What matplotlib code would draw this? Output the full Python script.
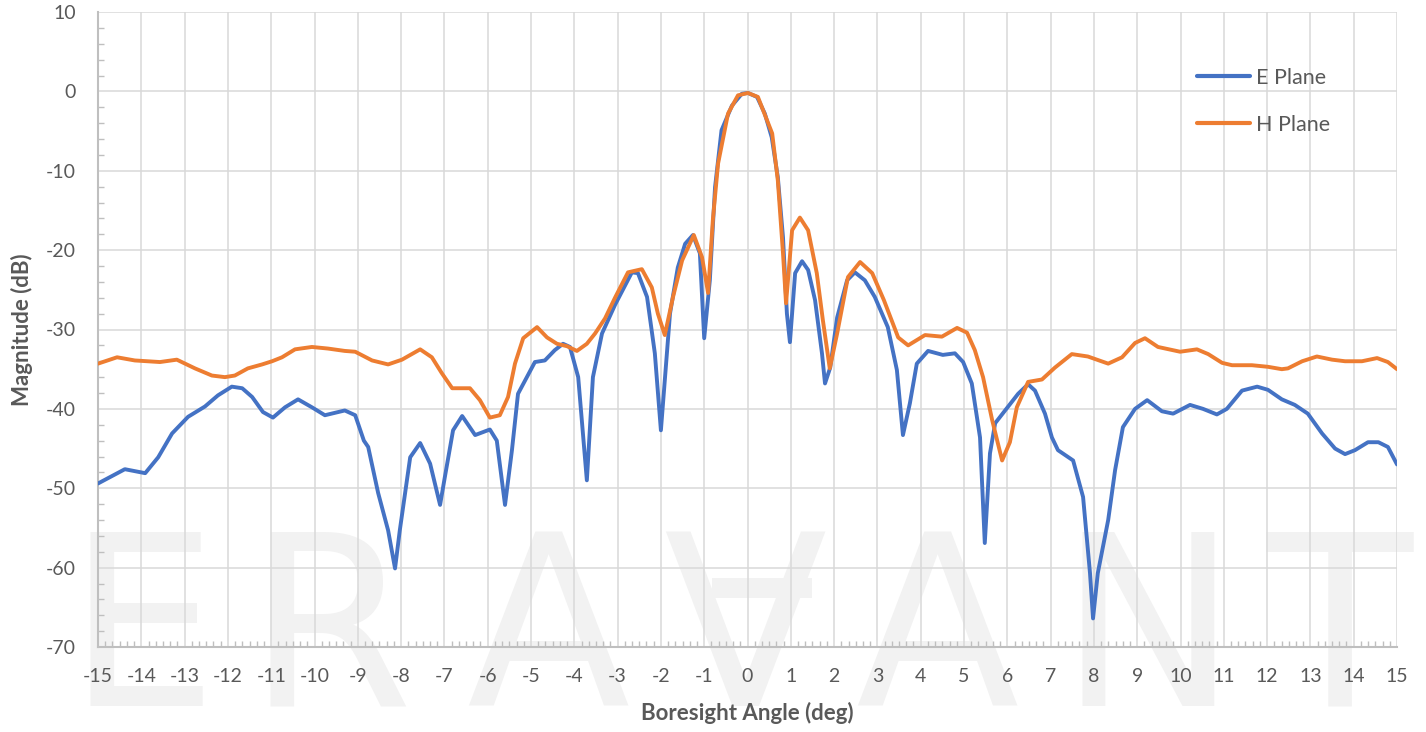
import matplotlib
matplotlib.use("Agg")
import matplotlib.pyplot as plt
from matplotlib.ticker import MultipleLocator
from matplotlib.patches import Rectangle
import matplotlib.font_manager as fm

# ---------------- data ----------------
e_angle = [-15.0, -14.38, -13.91, -13.61, -13.29, -12.92, -12.53, -12.23, -11.91, -11.67,
           -11.44, -11.19, -10.96, -10.68, -10.38, -10.06, -9.76, -9.30, -9.06, -8.86,
           -8.76, -8.53, -8.30, -8.14, -8.03, -7.79, -7.56, -7.33, -7.10, -6.99,
           -6.80, -6.59, -6.29, -5.95, -5.79, -5.60, -5.44, -5.30, -4.91, -4.68,
           -4.45, -4.26, -4.10, -3.91, -3.71, -3.57, -3.36, -3.06, -2.67, -2.53,
           -2.32, -2.14, -2.00, -1.79, -1.61, -1.44, -1.26, -1.10, -1.00, -0.87,
           -0.75, -0.60, -0.36, -0.13, 0.01, 0.22, 0.40, 0.56, 0.70, 0.82,
           0.91, 0.98, 1.10, 1.26, 1.40, 1.56, 1.72, 1.79, 1.91, 2.07,
           2.30, 2.48, 2.71, 2.94, 3.24, 3.45, 3.59, 3.75, 3.91, 4.17,
           4.51, 4.79, 4.98, 5.18, 5.37, 5.48, 5.60, 5.72, 5.95, 6.25,
           6.48, 6.64, 6.87, 7.03, 7.17, 7.52, 7.75, 7.91, 7.98, 8.09,
           8.33, 8.49, 8.67, 8.95, 9.23, 9.57, 9.83, 10.22, 10.52, 10.84,
           11.07, 11.42, 11.77, 12.02, 12.34, 12.64, 12.94, 13.27, 13.57, 13.80,
           14.03, 14.33, 14.57, 14.79, 15.0]
e_mag = [-49.4, -47.6, -48.1, -46.1, -43.1, -41.0, -39.7, -38.3, -37.2, -37.4,
         -38.5, -40.4, -41.1, -39.8, -38.8, -39.8, -40.8, -40.2, -40.8, -44.0,
         -44.8, -50.6, -55.3, -60.1, -55.3, -46.1, -44.3, -46.9, -52.1, -48.6,
         -42.7, -40.9, -43.3, -42.6, -44.0, -52.1, -45.2, -38.1, -34.1, -33.9,
         -32.6, -31.8, -32.2, -36.0, -49.0, -36.0, -30.5, -26.9, -22.8, -22.9,
         -25.9, -33.0, -42.7, -28.0, -22.2, -19.2, -18.1, -20.4, -31.1, -23.8,
         -12.1, -4.9, -1.8, -0.3, -0.2, -0.7, -2.8, -5.8, -10.8, -18.4,
         -28.0, -31.6, -22.9, -21.4, -22.5, -26.3, -33.0, -36.8, -34.8, -28.5,
         -23.8, -22.8, -23.8, -25.9, -29.7, -35.1, -43.3, -39.3, -34.3, -32.7,
         -33.2, -33.0, -34.1, -36.8, -43.6, -56.9, -45.6, -41.8, -40.2, -38.1,
         -36.9, -37.7, -40.6, -43.6, -45.2, -46.5, -51.1, -60.7, -66.4, -60.7,
         -54.0, -47.7, -42.3, -40.0, -38.9, -40.3, -40.6, -39.5, -40.0, -40.7,
         -40.0, -37.7, -37.2, -37.6, -38.8, -39.5, -40.6, -43.1, -45.0, -45.7,
         -45.2, -44.2, -44.2, -44.8, -47.0]

h_angle = [-15.0, -14.56, -14.15, -13.57, -13.18, -12.76, -12.37, -12.07, -11.84, -11.54,
           -11.21, -10.98, -10.75, -10.45, -10.06, -9.69, -9.30, -9.06, -8.67, -8.30,
           -7.98, -7.56, -7.29, -7.06, -6.82, -6.41, -6.18, -5.95, -5.72, -5.53,
           -5.37, -5.18, -4.86, -4.63, -4.40, -4.17, -3.94, -3.71, -3.52, -3.29,
           -3.06, -2.76, -2.44, -2.21, -2.07, -1.91, -1.72, -1.51, -1.24, -1.05,
           -0.91, -0.80, -0.68, -0.45, -0.22, 0.01, 0.24, 0.57, 0.70, 0.82,
           0.89, 1.03, 1.21, 1.40, 1.60, 1.74, 1.90, 2.07, 2.32, 2.60,
           2.88, 3.15, 3.48, 3.71, 4.10, 4.49, 4.84, 5.07, 5.25, 5.44,
           5.65, 5.88, 6.06, 6.22, 6.48, 6.80, 7.10, 7.49, 7.86, 8.33,
           8.65, 8.95, 9.18, 9.48, 9.99, 10.38, 10.64, 10.96, 11.19, 11.65,
           12.02, 12.34, 12.48, 12.81, 13.15, 13.50, 13.80, 14.19, 14.54, 14.79,
           15.0]
h_mag = [-34.3, -33.5, -33.9, -34.1, -33.8, -34.9, -35.8, -36.0, -35.8, -34.9,
         -34.4, -34.0, -33.5, -32.5, -32.2, -32.4, -32.7, -32.8, -33.9, -34.4,
         -33.8, -32.5, -33.5, -35.5, -37.4, -37.4, -38.9, -41.1, -40.8, -38.5,
         -34.3, -31.1, -29.7, -31.0, -31.8, -32.1, -32.7, -31.8, -30.5, -28.6,
         -26.0, -22.8, -22.4, -24.7, -28.0, -30.7, -25.9, -21.3, -18.1, -20.9,
         -25.4, -16.2, -9.1, -2.8, -0.5, -0.2, -0.7, -5.3, -11.2, -20.4,
         -26.7, -17.5, -15.9, -17.5, -22.9, -28.8, -34.9, -30.5, -23.4, -21.5,
         -22.9, -26.3, -31.0, -32.0, -30.7, -30.9, -29.8, -30.4, -32.6, -36.0,
         -41.4, -46.5, -44.2, -39.8, -36.6, -36.3, -34.8, -33.1, -33.4, -34.3,
         -33.5, -31.7, -31.1, -32.2, -32.8, -32.5, -33.1, -34.2, -34.5, -34.5,
         -34.7, -35.0, -34.9, -34.0, -33.4, -33.8, -34.0, -34.0, -33.6, -34.1,
         -35.0]

series_names = ["E Plane", "H Plane"]
x_ticks = list(range(-15, 16))
y_ticks = list(range(-70, 11, 10))
watermark_letters = ["E", "R", "A", "V", "A", "N", "T"]

# ---------------- styling ----------------
available = {f.name for f in fm.fontManager.ttflist}
base_font = "Lato" if "Lato" in available else "DejaVu Sans"
plt.rcParams["font.family"] = [base_font, "DejaVu Sans"]

W, H = 1426, 732
fig = plt.figure(figsize=(W / 100, H / 100), dpi=100)
fig.patch.set_facecolor("white")

L, R, T, B = 98, 1397, 12, 647
ax = fig.add_axes([L / W, 1 - B / H, (R - L) / W, (B - T) / H])
ax.patch.set_alpha(0)

# watermark (light logo lettering behind the plot)
wm_color = "#f2f2f2"
wm_x = [142, 330, 548, 745, 937, 1148, 1340]
for ch, px in zip(watermark_letters, wm_x):
    fig.text(px / W, 1 - 706 / H, ch, ha="center", va="baseline",
             fontsize=172, color=wm_color, zorder=-5, family="DejaVu Sans")
fig.add_artist(Rectangle((712 / W, 1 - 598 / H), 100 / W, 20 / H,
                         transform=fig.transFigure, facecolor=wm_color,
                         edgecolor="none", zorder=-5))

grid_c = "#d9d9d9"
ax.plot(e_angle, e_mag, color="#4472C4", lw=2.8, solid_joinstyle="round",
        solid_capstyle="round", label=series_names[0], zorder=4)
ax.plot(h_angle, h_mag, color="#ED7D31", lw=2.8, solid_joinstyle="round",
        solid_capstyle="round", label=series_names[1], zorder=5)

ax.set_xlim(-15, 15)
ax.set_ylim(-70, 10)
ax.set_xticks(x_ticks)
ax.set_xticklabels([str(v) for v in x_ticks])
ax.set_yticks(y_ticks)
ax.set_yticklabels([str(v) for v in y_ticks])
ax.xaxis.set_minor_locator(MultipleLocator(1 / 6))
ax.yaxis.set_minor_locator(MultipleLocator(2))

ax.grid(True, which="major", color=grid_c, lw=1.1, zorder=1)
ax.set_axisbelow(True)
for s in ["top", "right"]:
    ax.spines[s].set_visible(False)
for s in ["left", "bottom"]:
    ax.spines[s].set_color("#bfbfbf")
    ax.spines[s].set_linewidth(1.5)

ax.tick_params(axis="both", which="major", length=0, labelsize=14,
               labelcolor="#595959")
ax.tick_params(axis="x", which="major", pad=15)
ax.tick_params(axis="y", which="major", pad=16)
ax.tick_params(axis="both", which="minor", direction="in", length=4.5,
               width=1.0, color="#bfbfbf")

ax.set_xlabel("Boresight Angle (deg)", fontsize=16, fontweight="bold",
              color="#595959", labelpad=12)
ax.set_ylabel("Magnitude (dB)", fontsize=16, fontweight="bold",
              color="#595959", labelpad=9)

leg = ax.legend(loc="upper left",
                bbox_to_anchor=((1197 - L) / (R - L), 1 - (68 - T) / (B - T)),
                frameon=False, fontsize=15.5, handlelength=2.45, handletextpad=0.3,
                labelspacing=1.25, borderaxespad=0, borderpad=0)
for t in leg.get_texts():
    t.set_color("#595959")
for h in leg.get_lines():
    h.set_linewidth(3)

fig.savefig("out.png", dpi=100)
